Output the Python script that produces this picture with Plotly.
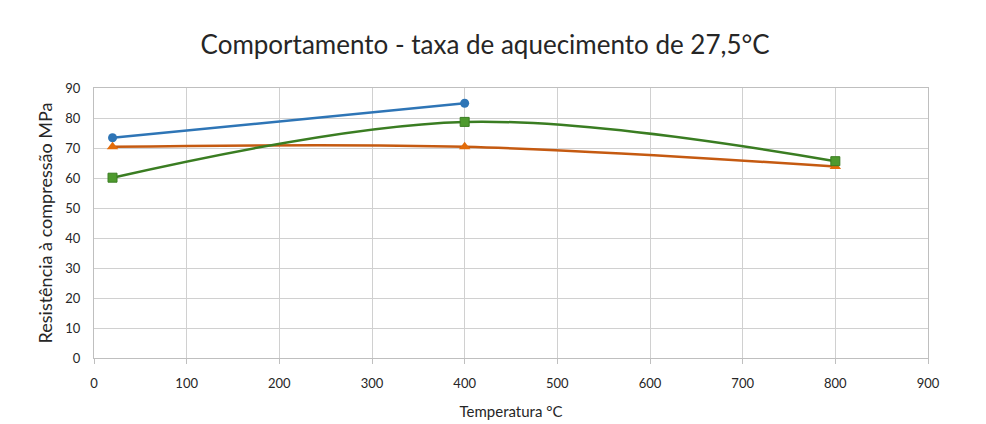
import plotly.graph_objects as go

# Temperature (°C) and compressive strength (MPa) for each series
temp_a = [20, 400]
strength_a = [73.4, 84.9]

temp_b = [20, 400, 800]
strength_b = [70.4, 70.4, 63.8]

temp_c = [20, 400, 800]
strength_c = [60.1, 78.7, 65.6]

x_ticks = list(range(0, 901, 100))
y_ticks = list(range(0, 91, 10))

fig = go.Figure()

fig.add_trace(go.Scatter(
    x=temp_a, y=strength_a, mode="lines+markers",
    line=dict(color="#2E75B6", width=2.5, shape="spline"),
    marker=dict(symbol="circle", size=9, color="#2E75B6"),
    showlegend=False,
))
fig.add_trace(go.Scatter(
    x=temp_b, y=strength_b, mode="lines+markers",
    line=dict(color="#C55A11", width=2.5, shape="spline", smoothing=1),
    marker=dict(symbol="triangle-up", size=10, color="#E36C0A"),
    showlegend=False,
))
fig.add_trace(go.Scatter(
    x=temp_c, y=strength_c, mode="lines+markers",
    line=dict(color="#3A7D22", width=2.5, shape="spline", smoothing=1),
    marker=dict(symbol="square", size=9, color="#4E9A2E",
                line=dict(color="#3A7D22", width=1)),
    showlegend=False,
))

font_family = "Lato, 'Open Sans', sans-serif"

fig.update_layout(
    width=986, height=424,
    margin=dict(l=94, r=58, t=88, b=66, autoexpand=False),
    paper_bgcolor="white", plot_bgcolor="white",
    font=dict(family=font_family, color="#404040"),
    title=dict(
        text="Comportamento - taxa de aquecimento de 27,5°C",
        x=0.492, xref="container", xanchor="center", y=0.895, yanchor="middle",
        font=dict(size=26, color="#262626", family=font_family),
    ),
    xaxis=dict(
        range=[0, 900], tickvals=x_ticks, ticktext=[str(v) for v in x_ticks],
        showgrid=True, gridcolor="#D0D0D0", gridwidth=1,
        showline=True, linecolor="#BFBFBF", linewidth=1, mirror=True,
        ticks="outside", ticklen=5, tickcolor="#BFBFBF",
        ticklabelstandoff=8, automargin=False,
        tickfont=dict(size=13, color="#262626"), zeroline=False,
        title=dict(text="Temperatura °C", font=dict(size=15, color="#262626"), standoff=16),
    ),
    yaxis=dict(
        range=[0, 90], tickvals=y_ticks, ticktext=[str(v) for v in y_ticks],
        showgrid=True, gridcolor="#D0D0D0", gridwidth=1,
        showline=True, linecolor="#BFBFBF", linewidth=1, mirror=True,
        tickfont=dict(size=13, color="#262626"), zeroline=False,
        ticks="", ticklabelstandoff=10, automargin=False,
        title=dict(text="Resistência à compressão MPa", font=dict(size=18, color="#262626"), standoff=8),
    ),
)

fig.write_html("out.html")
